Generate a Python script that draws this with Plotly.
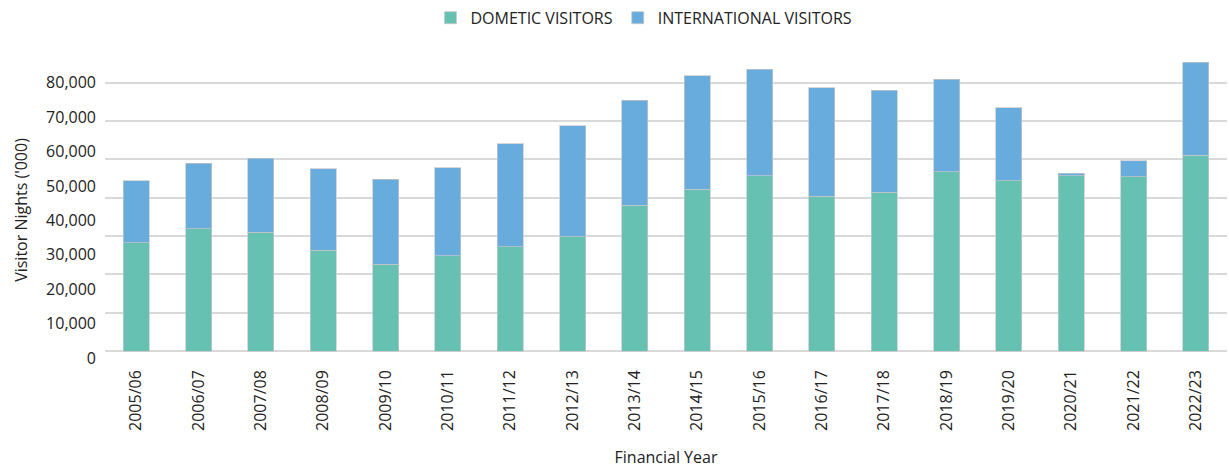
import plotly.graph_objects as go

years = ["2005/06", "2006/07", "2007/08", "2008/09", "2009/10", "2010/11",
         "2011/12", "2012/13", "2013/14", "2014/15", "2015/16", "2016/17",
         "2017/18", "2018/19", "2019/20", "2020/21", "2021/22", "2022/23"]

domestic = [32300, 36400, 35400, 30100, 25900, 28400, 31100, 34100, 43500,
            48300, 52200, 46200, 47300, 53500, 50700, 52200, 52000, 58400]

international = [18500, 19600, 22100, 24300, 25300, 26300, 30700, 33000, 31300,
                 33700, 31800, 32300, 30500, 27500, 21800, 800, 4700, 27700]

label_ticks = [0, 10000, 20000, 30000, 40000, 50000, 60000, 70000, 80000]
n_gridlines = 8
grid_top = 80000

TEAL = "#67C1B2"
BLUE = "#68ACDE"
FONT = "Open Sans"
TXT = "#222222"

fig = go.Figure()
fig.add_trace(go.Bar(x=years, y=domestic, name="DOMETIC VISITORS",
                     marker=dict(color=TEAL, line=dict(color="rgba(200,200,200,0.7)", width=1))))
fig.add_trace(go.Bar(x=years, y=international, name="INTERNATIONAL VISITORS",
                     marker=dict(color=BLUE, line=dict(color="rgba(200,200,200,0.7)", width=1))))
# helper trace so the label axis is drawn
fig.add_trace(go.Scatter(x=[years[0]], y=[0], yaxis="y2", mode="markers",
                         marker=dict(opacity=0), showlegend=False, hoverinfo="skip"))

grid_vals = [i * grid_top / (n_gridlines - 1) for i in range(n_gridlines)]

fig.update_layout(
    width=1229, height=468,
    margin=dict(l=105, r=2, t=60, b=108, autoexpand=False),
    paper_bgcolor="white", plot_bgcolor="white",
    barmode="stack", bargap=0.583,
    font=dict(family=FONT, size=16, color=TXT),
    legend=dict(orientation="h", xref="container", yref="container",
                x=0.524, xanchor="center", y=0.962, yanchor="middle",
                traceorder="normal", font=dict(size=16, color=TXT)),
    xaxis=dict(range=[-0.5, len(years) - 0.5], tickangle=-90, showgrid=False,
               zeroline=False, showline=False, ticks="", ticklabelstandoff=6,
               automargin=False, tickfont=dict(size=16, color=TXT),
               title=dict(text="Financial Year", font=dict(size=16, color=TXT), standoff=25)),
    yaxis=dict(range=[-2684, 86767], tickvals=grid_vals, showticklabels=False,
               showgrid=True, gridcolor="#D9D9D9", gridwidth=2, zeroline=False,
               showline=False, ticks="", automargin=False),
    yaxis2=dict(overlaying="y", side="left", range=[-581, 86595],
                tickvals=label_ticks, tickformat=",", showgrid=False, zeroline=False,
                showline=False, ticks="", ticklabelstandoff=8, automargin=False,
                tickfont=dict(size=16, color=TXT),
                title=dict(text="Visitor Nights ('000)", font=dict(size=16, color=TXT), standoff=14)),
)

fig.write_html("out.html")
